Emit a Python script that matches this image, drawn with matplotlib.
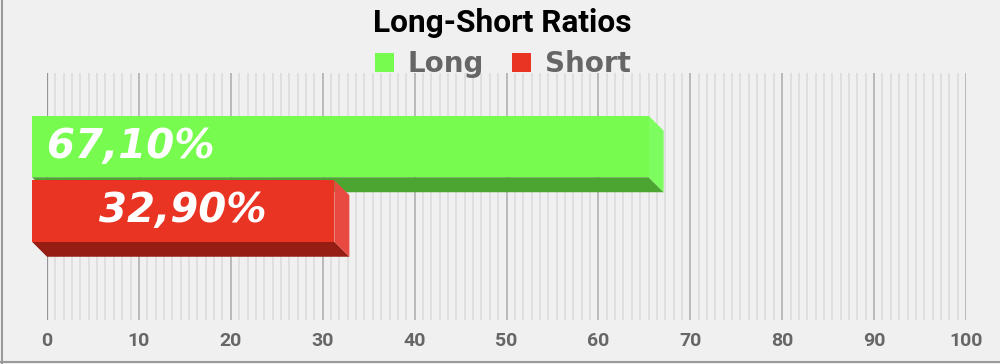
import matplotlib
matplotlib.use("Agg")
import matplotlib.pyplot as plt
from matplotlib.patches import Polygon, Patch
from matplotlib.lines import Line2D
import numpy as np

# ---- data ----
series = ["Long", "Short"]
values = [67.10, 32.90]
value_labels = ["67,10%", "32,90%"]
xticks = list(range(0, 101, 10))
title = "Long-Short Ratios"

# ---- style ----
front_colors = ["#77fb4f", "#e93323"]
bottom_colors = ["#4ca530", "#961d13"]
side_colors = ["#7efd60", "#e84a41"]
label_ha = ["left", "center"]
BG = "#f0f0f0"

W, H = 1000, 364
fig = plt.figure(figsize=(W / 100, H / 100), dpi=100, facecolor=BG)
ax = fig.add_axes([47 / W, 44 / H, 919 / W, 247 / H])
ax.set_facecolor(BG)

px_x = 919 / 100.0          # pixels per x unit
px_y = 64.5                 # pixels per category step
ax.set_xlim(0, 100)
ax.set_ylim((320 - 161.5) / px_y, (73 - 161.5) / px_y)

dx = 15 / px_x              # 3D depth in x units
dy = 15 / px_y              # 3D depth in y units
h = 61.5 / px_y             # bar thickness

# gridlines
minor = [m * 10 + k * 10 / 11 for m in range(10) for k in range(1, 11)]
ax.set_xticks(minor, minor=True)
ax.set_xticks(xticks)
ax.set_xticklabels([str(t) for t in xticks], fontfamily="Roboto",
                   fontweight="bold", fontsize=14, color="#666666")
ax.tick_params(axis="x", which="both", length=0, pad=9)
ax.tick_params(axis="y", which="both", left=False, labelleft=False)
ax.grid(axis="x", which="minor", color="#dadada", lw=1.1, zorder=0)
ax.grid(axis="x", which="major", color="#b0b0b0", lw=1.2, zorder=0)
for s in ax.spines.values():
    s.set_visible(False)
ax.axvline(0, color="#1a1a1a", lw=1.5, zorder=1)

# 3D bars
for i, (name, v) in enumerate(zip(series, values)):
    z = 3 + i * 3
    yc = i - dy
    ax.barh(yc, v, left=-dx, height=h, color=front_colors[i],
            clip_on=False, zorder=z + 2, linewidth=0)
    bottom = Polygon([(-dx, yc + h / 2), (v - dx, yc + h / 2),
                      (v, i + h / 2), (0, i + h / 2)],
                     closed=True, facecolor=bottom_colors[i], lw=0,
                     clip_on=False, zorder=z)
    side = Polygon([(v - dx, yc - h / 2), (v, i - h / 2),
                    (v, i + h / 2), (v - dx, yc + h / 2)],
                   closed=True, facecolor=side_colors[i], lw=0,
                   clip_on=False, zorder=z + 1)
    ax.add_patch(bottom)
    ax.add_patch(side)
    if label_ha[i] == "left":
        lx = -dx + 15 / px_x
    else:
        lx = v / 2 - dx
    ax.text(lx, yc, value_labels[i], ha=label_ha[i], va="center",
            color="white", fontsize=29, fontweight="bold", style="italic",
            fontfamily="DejaVu Sans", zorder=20, clip_on=False)

# title
fig.text(0.502, 1 - 23 / H, title, ha="center", va="center",
         fontfamily="Roboto", fontweight="bold", fontsize=22.8, color="black")

# legend
handles = [Patch(facecolor=c, edgecolor=c, lw=0) for c in front_colors]
leg = fig.legend(handles, series, loc="center", bbox_to_anchor=(0.503, 1 - 64 / H),
                 ncol=2, frameon=False, handlelength=0.68, handleheight=0.68,
                 handletextpad=0.5, columnspacing=1.0,
                 prop={"family": "DejaVu Sans", "weight": "bold", "size": 20})
for t in leg.get_texts():
    t.set_color("#666666")

# outer border (left and bottom)
fig.add_artist(Line2D([1.5 / W, 1.5 / W], [0, 1], transform=fig.transFigure,
                      color="#9a9a9a", lw=1.5))
fig.add_artist(Line2D([0, 1], [2.5 / H, 2.5 / H], transform=fig.transFigure,
                      color="#9a9a9a", lw=1.5))

fig.savefig("out.png", dpi=100, facecolor=BG)
